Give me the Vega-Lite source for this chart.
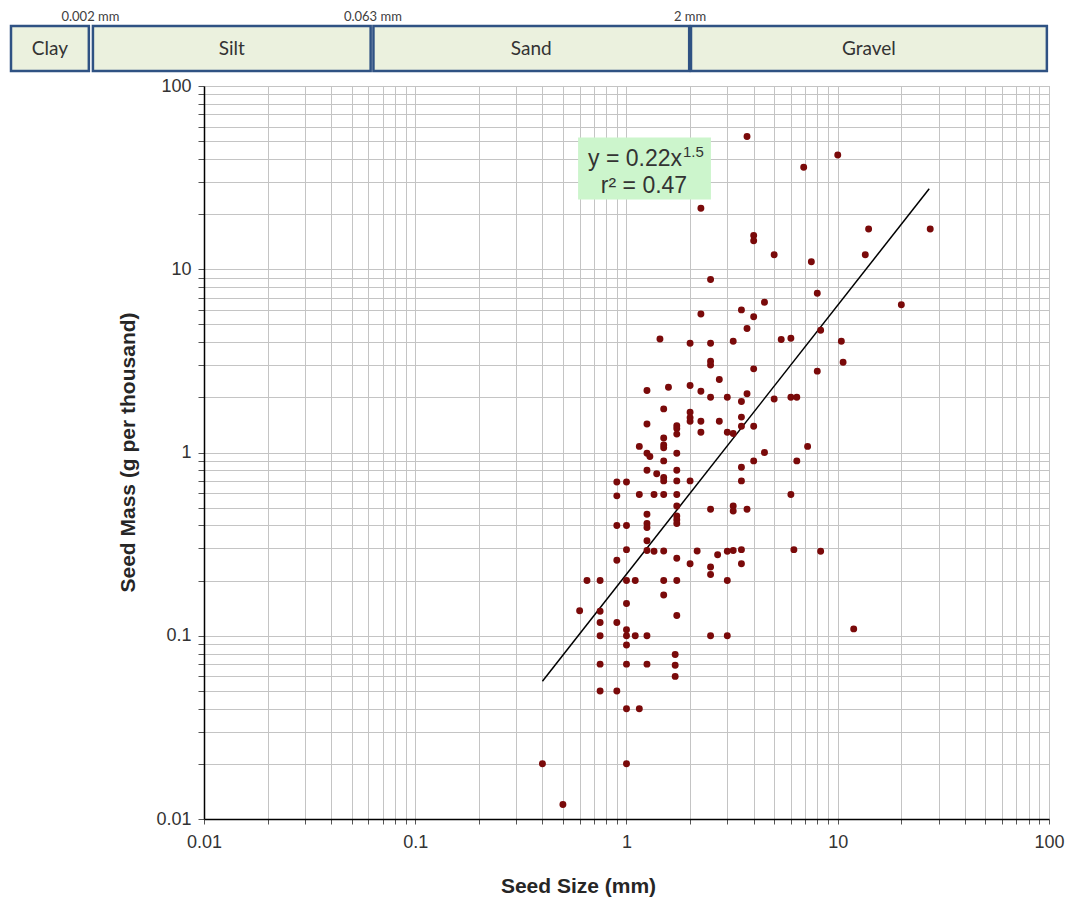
{
  "$schema": "https://vega.github.io/schema/vega-lite/v6.json",
  "autosize": {"type": "pad"},
  "padding": {"left": 9, "top": 11, "right": 10, "bottom": 8},
  "background": "white",
  "spacing": 15,
  "bounds": "flush",
  "config": {"font": "Liberation Sans", "view": {"stroke": null}},
  "datasets": {
    "classes": [
      {"name": "Clay", "lo": 0.00122, "hi": 0.00285},
      {"name": "Silt", "lo": 0.00298, "hi": 0.0615},
      {"name": "Sand", "lo": 0.0634, "hi": 1.98},
      {"name": "Gravel", "lo": 2.02, "hi": 97.7}
    ],
    "limits": [
      {"v": 0.0029, "label": "0.002 mm"},
      {"v": 0.063, "label": "0.063 mm"},
      {"v": 2, "label": "2 mm"}
    ],
    "eqbox": [{"size": 0.59, "size2": 2.51, "mass": 52.3, "mass2": 24.0}],
    "eqmain": [{"size": 1.831, "mass": 36.8, "txt": "y = 0.22x"}],
    "eqsup": [{"size": 1.851, "mass": 41.2, "txt": "1.5"}],
    "eqr2": [{"size": 1.21, "mass": 26.2, "txt": "r² = 0.47"}],
    "fit": [{"size": 0.4, "mass": 0.0565}, {"size": 27.1, "mass": 27.5}],
    "seeds": [
      {"size":3.72,"mass":53},{"size":6.9,"mass":36},{"size":10,"mass":42},{"size":2.25,"mass":21.5},
      {"size":4,"mass":15.3},{"size":4,"mass":14.3},{"size":5,"mass":12},{"size":14,"mass":16.6},
      {"size":27.4,"mass":16.6},{"size":7.5,"mass":11},{"size":13.5,"mass":12},{"size":2.5,"mass":8.8},
      {"size":8,"mass":7.4},{"size":20,"mass":6.4},{"size":4.5,"mass":6.6},{"size":3.5,"mass":6},
      {"size":2.25,"mass":5.7},{"size":4,"mass":5.5},{"size":3.72,"mass":4.75},{"size":8.3,"mass":4.65},
      {"size":1.44,"mass":4.16},{"size":2,"mass":3.95},{"size":2.5,"mass":3.95},{"size":3.2,"mass":4.05},
      {"size":5.4,"mass":4.14},{"size":6,"mass":4.2},{"size":10.4,"mass":4.05},{"size":2.5,"mass":3.15},
      {"size":2.5,"mass":3.0},{"size":4,"mass":2.86},{"size":2.75,"mass":2.5},{"size":1.58,"mass":2.27},
      {"size":2,"mass":2.32},{"size":2.25,"mass":2.16},{"size":2.5,"mass":2.0},{"size":3,"mass":2.0},
      {"size":3.72,"mass":2.09},{"size":3.5,"mass":1.9},{"size":5,"mass":1.96},{"size":6,"mass":2.0},
      {"size":6.4,"mass":2.0},{"size":1.5,"mass":1.73},{"size":2,"mass":1.66},{"size":2,"mass":1.55},
      {"size":2,"mass":1.48},{"size":2.25,"mass":1.48},{"size":2.75,"mass":1.48},{"size":3.5,"mass":1.56},
      {"size":1.73,"mass":1.4},{"size":1.73,"mass":1.35},{"size":1.73,"mass":1.26},{"size":2.25,"mass":1.29},
      {"size":3,"mass":1.29},{"size":3.2,"mass":1.27},{"size":3.5,"mass":1.39},{"size":4,"mass":1.39},
      {"size":1.5,"mass":1.2},{"size":1.5,"mass":1.1},{"size":1.5,"mass":1.06},{"size":1.73,"mass":0.99},
      {"size":4.5,"mass":1.0},{"size":1.5,"mass":0.9},{"size":4,"mass":0.9},{"size":6.4,"mass":0.9},
      {"size":1.73,"mass":0.8},{"size":3.5,"mass":0.83},{"size":1.5,"mass":0.73},{"size":1.5,"mass":0.7},
      {"size":1.73,"mass":0.7},{"size":2,"mass":0.7},{"size":3.5,"mass":0.7},{"size":1.5,"mass":0.59},
      {"size":1.73,"mass":0.59},{"size":6,"mass":0.59},{"size":1.73,"mass":0.51},{"size":2.5,"mass":0.49},
      {"size":3.2,"mass":0.51},{"size":3.2,"mass":0.48},{"size":3.72,"mass":0.49},{"size":1.73,"mass":0.45},
      {"size":1.73,"mass":0.43},{"size":1.73,"mass":0.41},{"size":1.5,"mass":0.29},{"size":2.16,"mass":0.29},
      {"size":1.73,"mass":0.265},{"size":2.7,"mass":0.277},{"size":3,"mass":0.289},{"size":3.2,"mass":0.292},
      {"size":3.5,"mass":0.295},{"size":6.2,"mass":0.295},{"size":8.3,"mass":0.289},{"size":2,"mass":0.247},
      {"size":2.5,"mass":0.237},{"size":3.5,"mass":0.247},{"size":10.6,"mass":3.11},{"size":8,"mass":2.78},
      {"size":7.2,"mass":1.08},{"size":1.25,"mass":2.18},{"size":1.25,"mass":1.43},{"size":1.15,"mass":1.08},
      {"size":1.25,"mass":0.99},{"size":1.29,"mass":0.95},{"size":1.25,"mass":0.8},{"size":1.39,"mass":0.765},
      {"size":0.9,"mass":0.69},{"size":1,"mass":0.69},{"size":0.9,"mass":0.58},{"size":1.15,"mass":0.59},
      {"size":1.35,"mass":0.59},{"size":1.25,"mass":0.46},{"size":1.25,"mass":0.41},{"size":1.25,"mass":0.39},
      {"size":0.9,"mass":0.4},{"size":1,"mass":0.4},{"size":1.25,"mass":0.33},{"size":1,"mass":0.295},
      {"size":1.25,"mass":0.292},{"size":1.35,"mass":0.289},{"size":0.9,"mass":0.258},{"size":0.65,"mass":0.2},
      {"size":0.75,"mass":0.2},{"size":1,"mass":0.2},{"size":1.1,"mass":0.2},{"size":1.5,"mass":0.2},
      {"size":1.5,"mass":0.167},{"size":1,"mass":0.15},{"size":0.6,"mass":0.137},{"size":0.75,"mass":0.136},
      {"size":0.75,"mass":0.118},{"size":0.9,"mass":0.118},{"size":1,"mass":0.108},{"size":0.75,"mass":0.1},
      {"size":1,"mass":0.1},{"size":1.1,"mass":0.1},{"size":1.25,"mass":0.1},{"size":1,"mass":0.089},
      {"size":0.75,"mass":0.07},{"size":1,"mass":0.07},{"size":1.25,"mass":0.07},{"size":0.75,"mass":0.05},
      {"size":0.9,"mass":0.05},{"size":1,"mass":0.04},{"size":1.15,"mass":0.04},{"size":0.4,"mass":0.02},
      {"size":1,"mass":0.02},{"size":0.5,"mass":0.012},{"size":2.5,"mass":0.216},{"size":1.73,"mass":0.2},
      {"size":3,"mass":0.2},{"size":1.73,"mass":0.129},{"size":2.5,"mass":0.1},{"size":3,"mass":0.1},
      {"size":1.7,"mass":0.079},{"size":1.7,"mass":0.069},{"size":1.7,"mass":0.06},{"size":11.9,"mass":0.109}
    ]
  },
  "vconcat": [
    {
      "width": 845,
      "height": 45,
      "view": {"stroke": null},
      "layer": [
        {
          "data": {"name": "classes"},
          "mark": {"type": "rect", "fill": "#EBF1DE", "stroke": "#2F5283", "strokeWidth": 2.5},
          "encoding": {
            "x": {"field": "lo", "type": "quantitative", "scale": {"type": "log", "domain": [0.01, 100], "nice": false}, "axis": null},
            "x2": {"field": "hi"}
          }
        },
        {
          "data": {"name": "classes"},
          "transform": [{"calculate": "sqrt(datum.lo * datum.hi)", "as": "mid"}],
          "mark": {"type": "text", "font": "Lato", "fontSize": 19, "color": "#333333", "baseline": "middle"},
          "encoding": {
            "x": {"field": "mid", "type": "quantitative"},
            "text": {"field": "name"}
          }
        },
        {
          "data": {"name": "limits"},
          "mark": {"type": "text", "font": "Lato", "fontSize": 13, "color": "#404040", "baseline": "alphabetic", "dy": -5},
          "encoding": {
            "x": {"field": "v", "type": "quantitative"},
            "y": {"value": 0},
            "text": {"field": "label"}
          }
        }
      ]
    },
    {
      "width": 845,
      "height": 733,
      "view": {"stroke": "#a6a6a6", "strokeWidth": 1},
      "encoding": {
        "x": {
          "field": "size", "type": "quantitative",
          "scale": {"type": "log", "domain": [0.01, 100], "nice": false},
          "title": "Seed Size (mm)",
          "axis": {
            "values": [0.01,0.02,0.03,0.04,0.05,0.06,0.07,0.08,0.09,0.1,0.2,0.3,0.4,0.5,0.6,0.7,0.8,0.9,1,2,3,4,5,6,7,8,9,10,20,30,40,50,60,70,80,90,100],
            "labelExpr": "datum.value == 0.01 ? '0.01' : datum.value == 0.1 ? '0.1' : datum.value == 1 ? '1' : datum.value == 10 ? '10' : datum.value == 100 ? '100' : ''",
            "labelOverlap": false, "labelFlush": false,
            "grid": true, "gridColor": "#c4c4c4", "gridWidth": 1,
            "domainColor": "#000000", "domainWidth": 1.5,
            "tickColor": "#555555", "tickSize": 5,
            "labelFont": "Liberation Sans", "labelFontSize": 18, "labelColor": "#333333", "labelPadding": 9,
            "titleFont": "Liberation Sans", "titleFontSize": 21, "titleFontWeight": "bold", "titleColor": "#262626",
            "titleX": 374, "titleY": 73, "titleBaseline": "alphabetic", "titleAlign": "center"
          }
        },
        "y": {
          "field": "mass", "type": "quantitative",
          "scale": {"type": "log", "domain": [0.01, 100], "nice": false},
          "title": "Seed Mass (g per thousand)",
          "axis": {
            "values": [0.01,0.02,0.03,0.04,0.05,0.06,0.07,0.08,0.09,0.1,0.2,0.3,0.4,0.5,0.6,0.7,0.8,0.9,1,2,3,4,5,6,7,8,9,10,20,30,40,50,60,70,80,90,100],
            "labelExpr": "datum.value == 0.01 ? '0.01' : datum.value == 0.1 ? '0.1' : datum.value == 1 ? '1' : datum.value == 10 ? '10' : datum.value == 100 ? '100' : ''",
            "labelOverlap": false, "labelFlush": false,
            "grid": true, "gridColor": "#c4c4c4", "gridWidth": 1,
            "domainColor": "#000000", "domainWidth": 1.5,
            "tickColor": "#555555", "tickSize": 6,
            "labelFont": "Liberation Sans", "labelFontSize": 18, "labelColor": "#333333", "labelPadding": 7,
            "titleFont": "Liberation Sans", "titleFontSize": 21, "titleFontWeight": "bold", "titleColor": "#262626",
            "titleAngle": -90, "titleX": -70, "titleY": 366, "titleBaseline": "alphabetic", "titleAlign": "center"
          }
        }
      },
      "layer": [
        {
          "data": {"name": "eqbox"},
          "mark": {"type": "rect", "fill": "#CCF5CC"},
          "encoding": {"x2": {"field": "size2"}, "y2": {"field": "mass2"}}
        },
        {
          "data": {"name": "fit"},
          "mark": {"type": "line", "color": "#000000", "strokeWidth": 1.5},
          "encoding": {}
        },
        {
          "data": {"name": "seeds"},
          "mark": {"type": "circle", "size": 48, "color": "#7a0a0a", "opacity": 1},
          "encoding": {}
        },
        {
          "data": {"name": "eqmain"},
          "mark": {"type": "text", "fontSize": 23, "color": "#333333", "align": "right", "baseline": "alphabetic"},
          "encoding": {"text": {"field": "txt"}}
        },
        {
          "data": {"name": "eqsup"},
          "mark": {"type": "text", "fontSize": 15, "color": "#333333", "align": "left", "baseline": "alphabetic"},
          "encoding": {"text": {"field": "txt"}}
        },
        {
          "data": {"name": "eqr2"},
          "mark": {"type": "text", "fontSize": 23, "color": "#333333", "align": "center", "baseline": "alphabetic"},
          "encoding": {"text": {"field": "txt"}}
        }
      ]
    }
  ]
}
